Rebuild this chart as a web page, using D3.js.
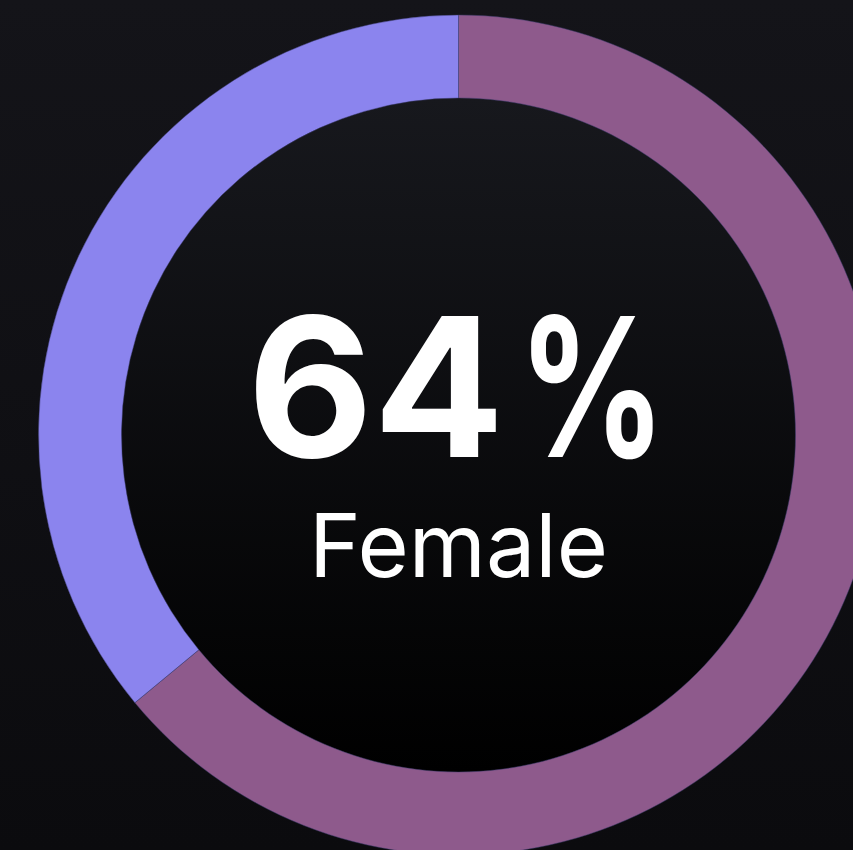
<!DOCTYPE html>
<html>
<head>
<meta charset="utf-8">
<script src="https://cdn.jsdelivr.net/npm/d3@7"></script>
<style>
  html, body { margin: 0; padding: 0; background: #111115; }
  svg { display: block; }
</style>
</head>
<body>
<svg id="chart" width="853" height="850"></svg>
<script>
// Gender split shown as a donut, with the female share called out in the middle
const categories = ["Female", "Male"];
const shares = [64, 36];
const colors = ["#8E5A8C", "#8B84EE"];
const headlineValue = "64";
const headlineUnit = "%";
const headlineLabel = "Female";

const width = 853, height = 850;
const cx = 458.5, cy = 435;
const outerR = 420, innerR = 337;

const svg = d3.select("#chart");
const defs = svg.append("defs");

const bgGrad = defs.append("linearGradient")
  .attr("id", "bg").attr("x1", 0).attr("y1", 0).attr("x2", 0).attr("y2", 1);
bgGrad.append("stop").attr("offset", "0%").attr("stop-color", "#141419");
bgGrad.append("stop").attr("offset", "100%").attr("stop-color", "#0b0b0e");

const holeGrad = defs.append("linearGradient")
  .attr("id", "hole").attr("x1", 0).attr("y1", 0).attr("x2", 0).attr("y2", 1);
holeGrad.append("stop").attr("offset", "0%").attr("stop-color", "#17181d");
holeGrad.append("stop").attr("offset", "100%").attr("stop-color", "#000000");

svg.append("rect").attr("width", width).attr("height", height).attr("fill", "url(#bg)");

const g = svg.append("g").attr("transform", `translate(${cx},${cy})`);

// Inner disc behind the text
g.append("circle").attr("r", innerR).attr("fill", "url(#hole)");

const pie = d3.pie().sort(null).value(d => d.value);
const arc = d3.arc().innerRadius(innerR).outerRadius(outerR);
const data = categories.map((c, i) => ({ name: c, value: shares[i], color: colors[i] }));

g.selectAll("path.slice")
  .data(pie(data))
  .join("path")
  .attr("class", "slice")
  .attr("d", arc)
  .attr("fill", d => d.data.color)
  .attr("stroke", "rgba(60,60,110,0.6)")
  .attr("stroke-width", 0.8);

// Big percentage: digits plus a slightly narrower percent sign
const bigFont = "Inter, 'Noto Sans', sans-serif";
const bigSize = 194;
const baseY = 22;

g.append("text")
  .attr("x", 46).attr("y", baseY)
  .attr("text-anchor", "end")
  .attr("font-family", bigFont)
  .attr("font-weight", 700)
  .attr("font-size", bigSize)
  .attr("fill", "#ffffff")
  .text(headlineValue);

const unitG = g.append("g");
const unit = unitG.append("text")
  .attr("x", 0).attr("y", 0)
  .attr("font-family", bigFont)
  .attr("font-weight", 700)
  .attr("font-size", bigSize)
  .attr("fill", "#ffffff")
  .text(headlineUnit);
const ub = unit.node().getBBox();
const sx = 133 / Math.max(1, ub.width * 0.9);
unitG.attr("transform", `translate(${67 - ub.x * sx - ub.width * 0.05 * sx},${baseY}) scale(${sx},1)`);

g.append("text")
  .attr("x", 0).attr("y", 142)
  .attr("text-anchor", "middle")
  .attr("font-family", bigFont)
  .attr("font-weight", 400)
  .attr("font-size", 88)
  .attr("fill", "#ffffff")
  .text(headlineLabel);
</script>
</body>
</html>
